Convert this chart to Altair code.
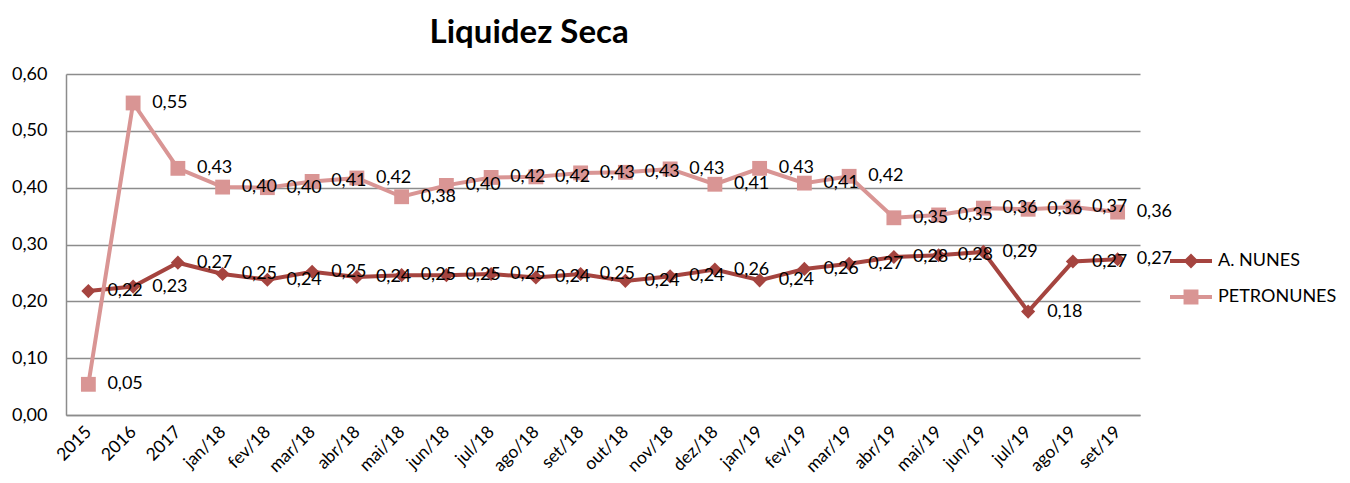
import altair as alt
import pandas as pd

categories = ["2015", "2016", "2017", "jan/18", "fev/18", "mar/18", "abr/18", "mai/18",
              "jun/18", "jul/18", "ago/18", "set/18", "out/18", "nov/18", "dez/18",
              "jan/19", "fev/19", "mar/19", "abr/19", "mai/19", "jun/19", "jul/19",
              "ago/19", "set/19"]

a_nunes = [0.218, 0.226, 0.268, 0.248, 0.238, 0.252, 0.243, 0.246, 0.246, 0.248,
           0.242, 0.248, 0.236, 0.244, 0.256, 0.237, 0.257, 0.266, 0.278, 0.281,
           0.287, 0.182, 0.270, 0.274]

petronunes = [0.054, 0.549, 0.434, 0.401, 0.400, 0.411, 0.417, 0.384, 0.404, 0.418,
              0.419, 0.426, 0.427, 0.433, 0.406, 0.434, 0.408, 0.420, 0.347, 0.352,
              0.364, 0.362, 0.366, 0.357]

series_names = ["A. NUNES", "PETRONUNES"]
series_colors = ["#A5443F", "#D99594"]
y_ticks = [0.0, 0.1, 0.2, 0.3, 0.4, 0.5, 0.6]

rows = []
for name, vals in zip(series_names, [a_nunes, petronunes]):
    for cat, v in zip(categories, vals):
        rows.append({"cat": cat, "series": name, "value": v,
                     "label": f"{v:.2f}".replace(".", ",")})
df = pd.DataFrame(rows)

FONT = "Lato"
GRID = "#8c8c8c"

x_enc = alt.X("cat:N", sort=categories, title=None,
              axis=alt.Axis(labelAngle=315, labelAlign="right", labelBaseline="middle",
                            labelPadding=14, ticks=False, grid=False,
                            domainColor=GRID, domainWidth=1.5,
                            labelFont=FONT, labelFontSize=17.5, labelColor="black"))
y_enc = alt.Y("value:Q", title=None,
              scale=alt.Scale(domain=[0, 0.6], nice=False, zero=True),
              axis=alt.Axis(values=y_ticks, grid=True, gridColor=GRID, gridWidth=1.5,
                            domainColor=GRID, domainWidth=1.5, ticks=False,
                            labelExpr="replace(format(datum.value, '.2f'), '.', ',')",
                            labelPadding=19, labelFont=FONT, labelFontSize=18,
                            labelColor="black"))

path_a = "M-1,0L1,0M-0.22,0L0,-0.22L0.22,0L0,0.22Z"
path_p = "M-1,0L1,0M-0.26,-0.26L0.26,-0.26L0.26,0.26L-0.26,0.26Z"

leg = alt.Legend(title=None, orient="none", legendX=1102, legendY=164,
                 symbolSize=1764, symbolStrokeWidth=4, labelFont=FONT,
                 labelFontSize=18, labelColor="black", labelOffset=4,
                 rowPadding=0, padding=0)

color_enc = alt.Color("series:N", scale=alt.Scale(domain=series_names, range=series_colors),
                      legend=leg)
shape_enc = alt.Shape("series:N", scale=alt.Scale(domain=series_names, range=[path_a, path_p]),
                      legend=leg)

base = alt.Chart(df)

lines = base.mark_line(strokeWidth=4).encode(x=x_enc, y=y_enc, color=color_enc)

pts_a = base.transform_filter(alt.datum.series == series_names[0]).mark_point(
    shape="diamond", filled=True, opacity=1, size=200).encode(
    x=x_enc, y=y_enc, color=color_enc)

pts_p = base.transform_filter(alt.datum.series == series_names[1]).mark_point(
    shape="square", filled=True, opacity=1, size=220).encode(
    x=x_enc, y=y_enc, color=color_enc)

legend_layer = base.transform_filter("false").mark_point(opacity=1).encode(
    x=x_enc, y=y_enc, color=color_enc, shape=shape_enc)

labels = base.mark_text(align="left", baseline="middle", dx=19, font=FONT,
                        fontSize=18, color="black").encode(
    x=x_enc, y=y_enc, text="label:N")

chart = alt.layer(lines, pts_a, pts_p, legend_layer, labels).properties(
    width=1074, height=341, background="white",
    title=alt.TitleParams(text="Liquidez Seca", anchor="start", dx=418, offset=15,
                          font=FONT, fontSize=33, fontWeight="bold", color="black"),
    autosize=alt.AutoSizeParams(type="none"),
    padding={"left": 58, "top": 66, "right": 202, "bottom": 68},
).configure_view(stroke=None)

chart.save("out.html", embed_options={"renderer": "svg", "actions": False})
